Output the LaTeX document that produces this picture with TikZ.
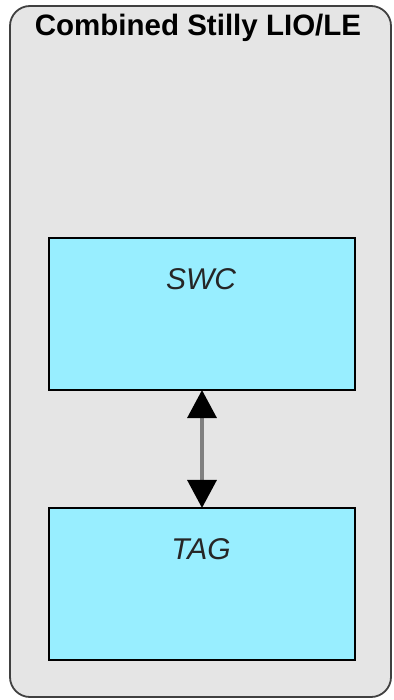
\documentclass[tikz,border=0pt]{standalone}
\usepackage{fontspec}
\setmainfont{Liberation Sans}
\usetikzlibrary{arrows.meta}
\definecolor{groupgray}{HTML}{E5E5E5}
\definecolor{blockcyan}{HTML}{98EEFF}
\tikzset{group/.style={rectangle,rounded corners=20pt,fill=groupgray,draw=black!75,line width=1.8pt}}
\tikzset{blk/.style={rectangle,fill=blockcyan,draw=black,line width=1.5pt,minimum width=306pt,minimum height=152pt,inner sep=0pt}}
\tikzset{blklabel/.style={font=\fontsize{30}{34}\selectfont\itshape,text=black!85,inner sep=0pt}}
\tikzset{link/.style={draw=black!50,line width=3.5pt,{Triangle[color=black,width=29pt,length=28pt]}-{Triangle[color=black,width=29pt,length=28pt]},shorten <=-0.7pt,shorten >=-0.7pt}}

\begin{document}
\begin{tikzpicture}[x=1pt,y=-1pt]
\useasboundingbox (0,0) rectangle (393,700);

\draw[group] (10,6) rectangle (391,697);
\node[font=\fontsize{29.5}{33}\selectfont\bfseries,inner sep=0pt,anchor=base] (title) at (198,36) {Combined Stilly LIO/LE};

\node[blk] (SWC) at (202,314) {};
\node[blk] (TAG) at (202,584) {};

\node[blklabel,anchor=base] (SWCl) at (201,289) {SWC};
\node[blklabel,anchor=base] (TAGl) at (201,559) {TAG};

\draw[link] (SWC.south) -- (TAG.north);

\end{tikzpicture}
\end{document}
